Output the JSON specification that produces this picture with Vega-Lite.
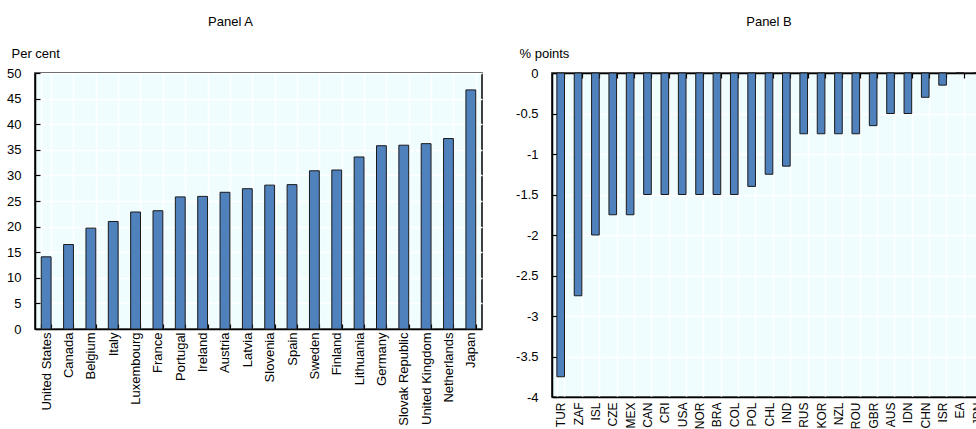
{
  "$schema": "https://vega.github.io/schema/vega-lite/v6.json",
  "padding": {"left": 5, "top": 15, "right": 0, "bottom": 0},
  "spacing": 31,
  "config": {
    "font": "Liberation Sans",
    "view": {"stroke": "#000000", "strokeWidth": 1.5, "fill": "#F0FDFF"},
    "title": {"fontSize": 13, "fontWeight": "normal", "font": "Liberation Sans", "color": "#000000"},
    "axis": {"labelFont": "Liberation Sans", "titleFont": "Liberation Sans", "labelColor": "#000000", "titleColor": "#000000", "domainColor": "#000000", "tickColor": "#000000", "gridColor": "#FFFFFF", "gridWidth": 1.5, "gridOpacity": 1, "domainWidth": 1.5, "tickWidth": 1.2}
  },
  "hconcat": [
    {
      "width": 447,
      "height": 256,
      "title": {"text": "Panel A", "dx": -28, "offset": 18},
      "data": {"values": [
        {"country": "United States", "value": 14.1},
        {"country": "Canada", "value": 16.5},
        {"country": "Belgium", "value": 19.7},
        {"country": "Italy", "value": 21.0},
        {"country": "Luxembourg", "value": 22.85},
        {"country": "France", "value": 23.1},
        {"country": "Portugal", "value": 25.8},
        {"country": "Ireland", "value": 25.9},
        {"country": "Austria", "value": 26.7},
        {"country": "Latvia", "value": 27.4},
        {"country": "Slovenia", "value": 28.1},
        {"country": "Spain", "value": 28.2},
        {"country": "Sweden", "value": 30.9},
        {"country": "Finland", "value": 31.05},
        {"country": "Lithuania", "value": 33.6},
        {"country": "Germany", "value": 35.8},
        {"country": "Slovak Republic", "value": 35.9},
        {"country": "United Kingdom", "value": 36.2},
        {"country": "Netherlands", "value": 37.2},
        {"country": "Japan", "value": 46.7}
      ]},
      "mark": {"type": "bar", "fill": "#4F81BD", "stroke": "#1a1a1a", "strokeWidth": 1},
      "encoding": {
        "x": {"field": "country", "type": "nominal", "sort": null,
          "scale": {"paddingInner": 0.56, "paddingOuter": 0.28},
          "axis": {"title": null, "orient": "bottom", "labelAngle": -90, "labelFontSize": 13, "tickBand": "extent", "tickSize": -5, "labelPadding": 8, "grid": true}},
        "y": {"field": "value", "type": "quantitative",
          "scale": {"domain": [0, 50], "nice": false},
          "axis": {"title": "Per cent", "titleAngle": 0, "titleAlign": "left", "titleBaseline": "alphabetic", "titleX": -24, "titleY": -16, "titleFontSize": 13, "titleFontWeight": "normal", "values": [0,5,10,15,20,25,30,35,40,45,50], "labelFontSize": 13, "tickSize": -5, "labelPadding": 19, "grid": true}}
      }
    },
    {
      "width": 434,
      "height": 324,
      "title": {"text": "Panel B", "offset": 18},
      "data": {"values": [
        {"code": "TUR", "value": -3.75},
        {"code": "ZAF", "value": -2.75},
        {"code": "ISL", "value": -2.0},
        {"code": "CZE", "value": -1.75},
        {"code": "MEX", "value": -1.75},
        {"code": "CAN", "value": -1.5},
        {"code": "CRI", "value": -1.5},
        {"code": "USA", "value": -1.5},
        {"code": "NOR", "value": -1.5},
        {"code": "BRA", "value": -1.5},
        {"code": "COL", "value": -1.5},
        {"code": "POL", "value": -1.4},
        {"code": "CHL", "value": -1.25},
        {"code": "IND", "value": -1.15},
        {"code": "RUS", "value": -0.75},
        {"code": "KOR", "value": -0.75},
        {"code": "NZL", "value": -0.75},
        {"code": "ROU", "value": -0.75},
        {"code": "GBR", "value": -0.65},
        {"code": "AUS", "value": -0.5},
        {"code": "IDN", "value": -0.5},
        {"code": "CHN", "value": -0.3},
        {"code": "ISR", "value": -0.15},
        {"code": "EA", "value": 0},
        {"code": "JPN", "value": 0}
      ]},
      "layer": [
        {
          "mark": {"type": "bar", "fill": "#4F81BD", "stroke": "#1a1a1a", "strokeWidth": 1},
          "encoding": {
            "x": {"field": "code", "type": "nominal", "sort": null,
              "scale": {"paddingInner": 0.56, "paddingOuter": 0.28},
              "axis": {"title": null, "orient": "bottom", "labelAngle": -90, "labelFontSize": 12, "tickBand": "extent", "ticks": false, "labelPadding": 5, "grid": true}},
            "y": {"field": "value", "type": "quantitative",
              "scale": {"domain": [-4, 0], "nice": false},
              "axis": {"title": "% points", "titleAngle": 0, "titleAlign": "left", "titleBaseline": "alphabetic", "titleX": -33, "titleY": -16, "titleFontSize": 13, "titleFontWeight": "normal", "values": [-4,-3.5,-3,-2.5,-2,-1.5,-1,-0.5,0], "labelExpr": "toString(datum.value)", "labelFontSize": 13, "tickSize": -5, "labelPadding": 19, "grid": true}}
          }
        },
        {
          "mark": {"type": "tick", "opacity": 0},
          "encoding": {
            "x": {"field": "code", "type": "nominal", "sort": null,
              "axis": {"title": null, "orient": "top", "labels": false, "tickBand": "extent", "tickSize": -5, "grid": false}},
            "y": {"field": "value", "type": "quantitative"}
          }
        }
      ],
      "resolve": {"axis": {"x": "independent"}}
    }
  ]
}
